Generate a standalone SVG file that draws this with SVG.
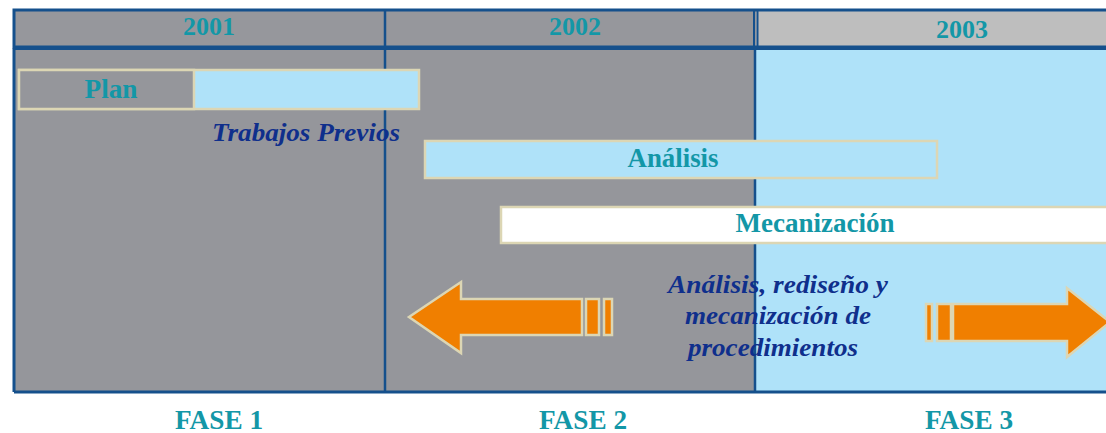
<svg xmlns="http://www.w3.org/2000/svg" width="1106" height="433" viewBox="0 0 1106 433">
<style>
.yr{font-family:"Liberation Serif",serif;font-weight:bold;font-size:26px;fill:#1397a7;text-anchor:middle}
.bar{stroke:#dcd6b4;stroke-width:2.5}
.lbl{font-family:"Liberation Serif",serif;font-weight:bold;font-size:27px;fill:#1397a7;text-anchor:middle}
.nav{font-family:"Liberation Serif",serif;font-weight:bold;font-style:italic;font-size:25px;fill:#0f2f8c;text-anchor:middle}
.arr{fill:#f07f00;stroke:#dcd6b4;stroke-width:2.5}
.line{stroke:#15508c;fill:none}
</style>
<rect width="1106" height="433" fill="#ffffff"/>
<g id="table">
<rect x="14" y="10" width="1100" height="37" fill="#96979c"/>
<rect x="756" y="10" width="358" height="37" fill="#bebebe"/>
<rect x="14" y="49" width="741" height="343" fill="#95969b"/>
<rect x="755" y="49" width="359" height="343" fill="#afe2f9"/>
<rect x="14" y="10" width="1100" height="37" class="line" stroke-width="3"/>
<line x1="14" y1="48.5" x2="1106" y2="48.5" class="line" stroke-width="3"/>
<line x1="14" y1="48" x2="14" y2="392" class="line" stroke-width="3"/>
<line x1="14" y1="392" x2="1106" y2="392" class="line" stroke-width="3"/>
<line x1="385" y1="10" x2="385" y2="392" class="line" stroke-width="2.5"/>
<line x1="754" y1="10" x2="754" y2="47" class="line" stroke-width="2"/>
<line x1="757.5" y1="10" x2="757.5" y2="47" class="line" stroke-width="2"/>
<line x1="755" y1="48" x2="755" y2="392" class="line" stroke-width="2.5"/>
</g>
<g id="years">
<text class="yr" x="209" y="35" textLength="52" lengthAdjust="spacingAndGlyphs">2001</text>
<text class="yr" x="575" y="35" textLength="52" lengthAdjust="spacingAndGlyphs">2002</text>
<text class="yr" x="962" y="38" textLength="52" lengthAdjust="spacingAndGlyphs">2003</text>
</g>
<g id="plan">
<rect x="19" y="70" width="400" height="39" fill="#afe2f9" class="bar"/>
<rect x="19" y="70" width="175" height="39" fill="#95969b" class="bar"/>
<text class="lbl" x="111" y="98" textLength="53" lengthAdjust="spacingAndGlyphs">Plan</text>
</g>
<g id="trabajos">
<text class="nav" x="306" y="141" textLength="188" lengthAdjust="spacingAndGlyphs">Trabajos Previos</text>
</g>
<g id="analisis">
<rect x="425" y="141" width="512" height="37" fill="#afe2f9" class="bar"/>
<text class="lbl" x="673" y="167" textLength="91" lengthAdjust="spacingAndGlyphs">Análisis</text>
</g>
<g id="mecanizacion">
<rect x="501" y="207" width="610" height="36" fill="#ffffff" class="bar"/>
<text class="lbl" x="815" y="232" textLength="159" lengthAdjust="spacingAndGlyphs">Mecanización</text>
</g>
<g id="connectors">
<polygon class="arr" points="582,299 461,299 461,282 409,317 461,353 461,335 582,335"/>
<rect class="arr" x="586" y="299" width="13" height="36"/>
<rect class="arr" x="604" y="299" width="8" height="36"/>
<polygon class="arr" points="953,304 1067,304 1067,288 1110,322 1067,357 1067,341 953,341"/>
<rect class="arr" x="937" y="304" width="14" height="37"/>
<rect class="arr" x="926" y="304" width="6" height="37"/>
</g>
<g id="desc">
<text class="nav" x="778" y="293" textLength="220" lengthAdjust="spacingAndGlyphs">Análisis, rediseño y</text>
<text class="nav" x="778" y="324" textLength="186" lengthAdjust="spacingAndGlyphs">mecanización de</text>
<text class="nav" x="773" y="356" textLength="170" lengthAdjust="spacingAndGlyphs">procedimientos</text>
</g>
<g id="fases">
<text class="lbl" x="219" y="429" textLength="88" lengthAdjust="spacingAndGlyphs">FASE 1</text>
<text class="lbl" x="583" y="429" textLength="88" lengthAdjust="spacingAndGlyphs">FASE 2</text>
<text class="lbl" x="969" y="429" textLength="88" lengthAdjust="spacingAndGlyphs">FASE 3</text>
</g>
</svg>
